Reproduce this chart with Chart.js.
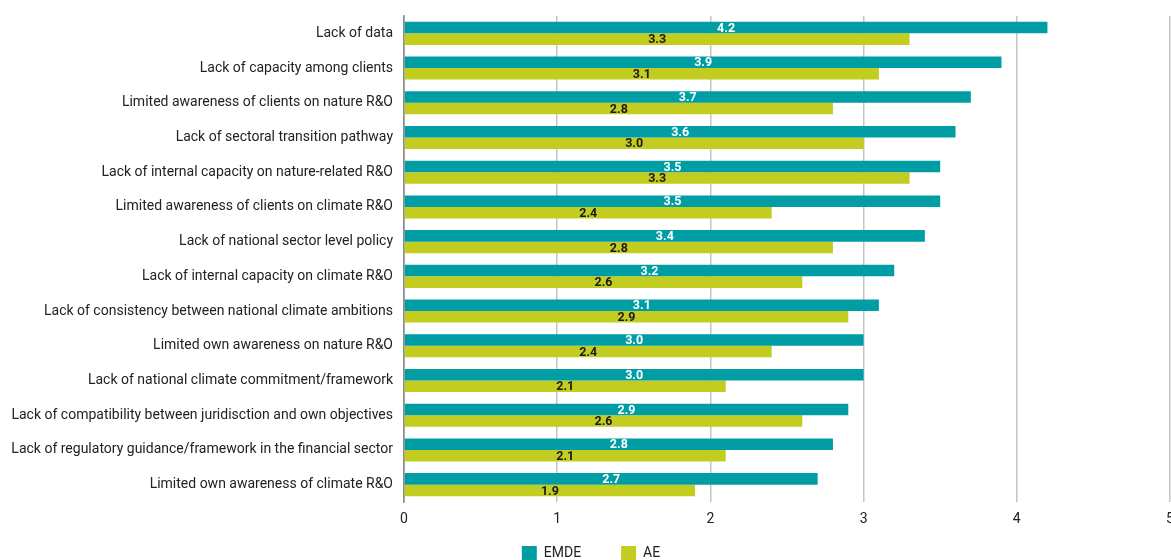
<!DOCTYPE html>
<html lang="en">
<head>
<meta charset="UTF-8">
<title>Barriers to transition R&amp;O</title>
<script src="https://cdn.jsdelivr.net/npm/chart.js"></script>
<style>
  html, body { margin: 0; padding: 0; background: #fff; overflow: hidden; }
  #wrap { position: absolute; left: 0; top: 0; }
</style>
</head>
<body>
<div id="wrap"><canvas id="barrierChart" width="1217" height="593"></canvas></div>

<script>
const categories = [
  'Lack of data',
  'Lack of capacity among clients',
  'Limited awareness of clients on nature R&O',
  'Lack of sectoral transition pathway',
  'Lack of internal capacity on nature-related R&O',
  'Limited awareness of clients on climate R&O',
  'Lack of national sector level policy',
  'Lack of internal capacity on climate R&O',
  'Lack of consistency between national climate ambitions',
  'Limited own awareness on nature R&O',
  'Lack of national climate commitment/framework',
  'Lack of compatibility between juridisction and own objectives',
  'Lack of regulatory guidance/framework in the financial sector',
  'Limited own awareness of climate R&O'
];
const emdeValues = [4.2, 3.9, 3.7, 3.6, 3.5, 3.5, 3.4, 3.2, 3.1, 3.0, 3.0, 2.9, 2.8, 2.7];
const aeValues   = [3.3, 3.1, 2.8, 3.0, 3.3, 2.4, 2.8, 2.6, 2.9, 2.4, 2.1, 2.6, 2.1, 1.9];
const xTicks = [0, 1, 2, 3, 4, 5];

const FONT = "Roboto, 'Liberation Sans', sans-serif";

// writes each value in the middle of its bar
const valueLabels = {
  id: 'valueLabels',
  afterDatasetsDraw(chart) {
    const ctx = chart.ctx;
    ctx.save();
    ctx.font = 'bold 12.5px ' + FONT;
    ctx.textAlign = 'center';
    ctx.textBaseline = 'middle';
    chart.data.datasets.forEach((ds, i) => {
      ctx.fillStyle = i === 0 ? '#ffffff' : '#1a1a1a';
      chart.getDatasetMeta(i).data.forEach((bar, j) => {
        ctx.fillText(ds.data[j].toFixed(1), (bar.x + bar.base) / 2, bar.y + 1);
      });
    });
    ctx.restore();
  }
};

// pull the legend up closer to the axis labels
const legendNudge = {
  id: 'legendNudge',
  afterLayout(chart) {
    const lg = chart.legend;
    if (!lg) return;
    lg.top -= 22;
    lg.bottom -= 22;
    lg.left += 6;
    lg.right += 6;
  }
};

new Chart(document.getElementById('barrierChart'), {
  type: 'bar',
  data: {
    labels: categories,
    datasets: [
      { label: 'EMDE', data: emdeValues, backgroundColor: '#009ea4' },
      { label: 'AE', data: aeValues, backgroundColor: '#c3cd20' }
    ]
  },
  options: {
    indexAxis: 'y',
    responsive: false,
    devicePixelRatio: 1,
    animation: false,
    categoryPercentage: 0.665,
    barPercentage: 1,
    layout: { padding: { top: 16, right: 47, left: 0, bottom: 0 } },
    scales: {
      x: {
        min: 0,
        max: 5,
        afterBuildTicks(scale) { scale.ticks = xTicks.map(v => ({ value: v })); },
        afterFit(scale) { scale.height = 26; },
        grid: {
          drawTicks: false,
          color: ctx => ctx.tick && ctx.tick.value === 0 ? '#8c8c8c' : '#c4c4c4',
          lineWidth: 1.5
        },
        border: { display: false },
        ticks: { color: '#222', font: { family: FONT, size: 14 }, padding: 9 }
      },
      y: {
        afterFit(scale) { scale.width = 404; },
        grid: { display: false },
        border: { display: true, color: '#8c8c8c', width: 1.5 },
        ticks: { color: '#222', font: { family: FONT, size: 14 }, padding: 3, autoSkip: false }
      }
    },
    plugins: {
      legend: {
        position: 'bottom',
        labels: {
          boxWidth: 15,
          boxHeight: 15,
          padding: 40,
          color: '#222',
          font: { family: FONT, size: 14 }
        }
      },
      tooltip: { enabled: false }
    }
  },
  plugins: [valueLabels, legendNudge]
});
</script>
</body>
</html>
